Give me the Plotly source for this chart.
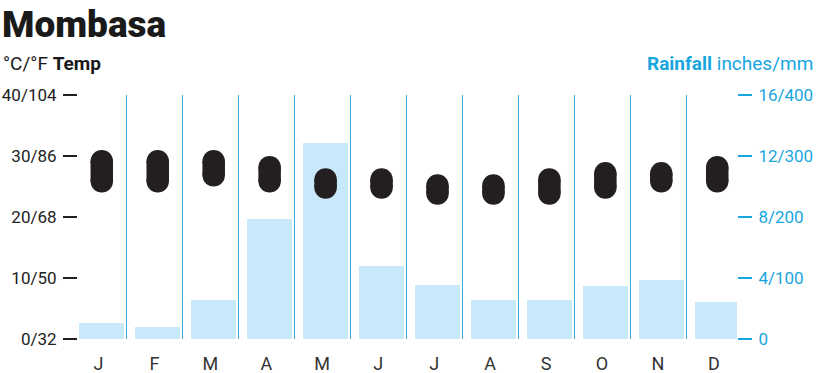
import plotly.graph_objects as go

# ---- data ----
months = ["J", "F", "M", "A", "M", "J", "J", "A", "S", "O", "N", "D"]
temp_low_c = [24, 24, 25, 24, 23, 23, 22, 22, 22, 23, 24, 24]
temp_high_c = [31, 31, 31, 30, 28, 28, 27, 27, 28, 29, 29, 30]
rain_mm = [26, 19, 64, 196, 321, 120, 89, 64, 64, 87, 97, 61]

temp_ticks = [0, 10, 20, 30, 40]
temp_ticktext = ["0/32", "10/50", "20/68", "30/86", "40/104"]
rain_ticks = [0, 100, 200, 300, 400]
rain_ticktext = ["0", "4/100", "8/200", "12/300", "16/400"]

# ---- layout geometry / style ----
W, H = 820, 373
ML, MR, MT, MB = 78, 83, 95, 34
PW, PH = W - ML - MR, H - MT - MB
XMIN, XMAX = -0.425, 11.353
TEMP_MAX = 40
PILL_W = 22.5

DARK = "#231F20"
CYAN = "#17A6DE"
LINE_CYAN = "#3AA9D8"
BAR_BLUE = "#C8E8FB"
FONT = "Roboto, 'Liberation Sans', sans-serif"

def px_x(p):
    return (p - ML) / PW

def px_y(p):
    return (H - MB - p) / PH

xs = list(range(len(months)))

# pill geometry: rounded caps of radius PILL_W/2 (in data units)
r = (PILL_W / 2) / (PH / TEMP_MAX)
px, py = [], []
for i, lo, hi in zip(xs, temp_low_c, temp_high_c):
    px += [i, i, None]
    py += [lo + r, hi - r, None]

fig = go.Figure()
fig.add_trace(go.Bar(
    x=xs, y=rain_mm, width=0.81, marker=dict(color=BAR_BLUE, line=dict(width=0)),
    yaxis="y", hoverinfo="skip", showlegend=False,
))
fig.add_trace(go.Scatter(
    x=px, y=py, mode="lines+markers", yaxis="y2",
    line=dict(color=DARK, width=PILL_W),
    marker=dict(color=DARK, size=PILL_W, symbol="circle", line=dict(width=0)),
    hoverinfo="skip", showlegend=False, connectgaps=False,
))

fig.update_layout(
    width=W, height=H, margin=dict(l=ML, r=MR, t=MT, b=MB, pad=0, autoexpand=False),
    paper_bgcolor="white", plot_bgcolor="white",
    font=dict(family=FONT, color="#333333", size=18),
    bargap=0,
    xaxis=dict(
        range=[XMIN, XMAX], tickmode="array", tickvals=[x - 0.06 for x in xs], ticktext=months,
        ticks="outside", ticklen=8, tickcolor="rgba(0,0,0,0)", automargin=False,
        showgrid=False, zeroline=False, showline=False,
        tickfont=dict(size=18, color="#333333"),
        minor=dict(tickmode="array", tickvals=[x + 0.445 for x in xs[:-1]],
                   showgrid=True, gridcolor=LINE_CYAN, gridwidth=1.2, ticks=""),
        fixedrange=True,
    ),
    yaxis=dict(
        range=[0, 400], side="right", tickmode="array", tickvals=rain_ticks, ticktext=rain_ticktext,
        ticks="outside", ticklen=14, tickwidth=1.8, tickcolor=CYAN, automargin=False,
        tickfont=dict(size=17, color=CYAN), ticklabelstandoff=3,
        showgrid=False, zeroline=False, showline=False, fixedrange=True,
    ),
    yaxis2=dict(
        range=[0, TEMP_MAX], side="left", overlaying="y", tickmode="array",
        tickvals=temp_ticks, ticktext=temp_ticktext, automargin=False,
        ticks="outside", ticklen=14, tickwidth=1.8, tickcolor=DARK,
        tickfont=dict(size=17, color="#222222"), ticklabelstandoff=3,
        showgrid=False, zeroline=False, showline=False, fixedrange=True,
    ),
    annotations=[
        dict(text="Mombasa", xref="paper", yref="paper",
             x=px_x(0), y=px_y(24), xanchor="left", yanchor="middle",
             showarrow=False, font=dict(family=FONT, size=37, color="#1a1a1a", weight=900)),
        dict(text="°C/°F <b>Temp</b>", xref="paper", yref="paper",
             x=px_x(1), y=px_y(63), xanchor="left", yanchor="middle",
             showarrow=False, font=dict(family=FONT, size=19, color="#1a1a1a")),
        dict(text="<b>Rainfall</b> inches/mm", xref="paper", yref="paper",
             x=px_x(815), y=px_y(63), xanchor="right", yanchor="middle",
             showarrow=False, font=dict(family=FONT, size=19, color=CYAN)),
    ],
)

fig.write_html("out.html", config={"displayModeBar": False})
